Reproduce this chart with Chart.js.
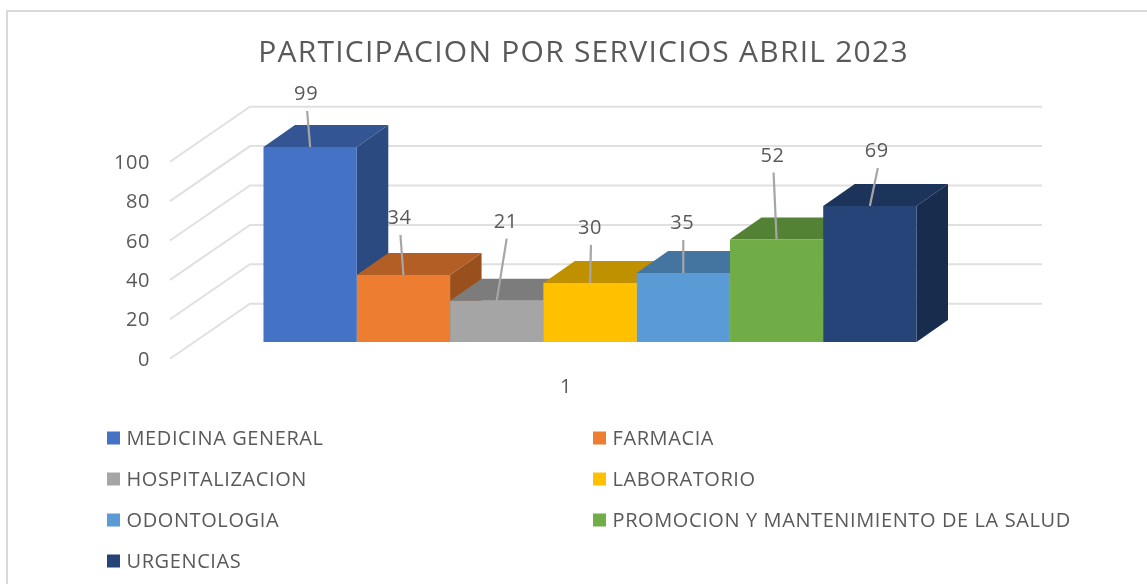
<!DOCTYPE html>
<html>
<head>
<meta charset="utf-8">
<style>
html,body{margin:0;padding:0;background:#fff;overflow:hidden}
#frame{position:absolute;left:6px;top:10px;right:0;bottom:0;border-left:2px solid #d9d9d9;border-top:2px solid #d9d9d9}
canvas{position:absolute;left:0;top:0;display:block}
</style>
<script src="https://cdn.jsdelivr.net/npm/chart.js@4"></script>
</head>
<body>
<div id="frame"></div>
<canvas id="c" width="1147" height="584"></canvas>
<script>
const chartTitle = 'PARTICIPACION POR SERVICIOS ABRIL 2023';
const categories = ['1'];
const seriesNames = ['MEDICINA GENERAL','FARMACIA','HOSPITALIZACION','LABORATORIO','ODONTOLOGIA','PROMOCION Y MANTENIMIENTO DE LA SALUD','URGENCIAS'];
const seriesValues = [99,34,21,30,35,52,69];
const frontColors = ['#4472C4','#ED7D31','#A5A5A5','#FFC000','#5B9BD5','#70AD47','#264478'];
const topColors   = ['#335593','#B25E25','#7C7C7C','#BF9000','#4474A0','#548235','#1C335A'];
const sideColors  = ['#2A4A80','#99501C','#6B6B6B','#A67C00','#3B6589','#48702E','#182C4D'];
const yTicks = {min:0,max:100,step:20};
// where each value label sits relative to the top of its bar
const labelDX = [-4,-4,9,0,-1,-4,7];
const labelDY = [-54,-58,-80,-56,-51,-85,-56];

const FONT = '"Open Sans", sans-serif';
const TEXT = '#595959';
const DEPTH = {x:31.5, y:22};

const scene = {
  id:'scene',
  afterLayout(chart){
    const t = chart.titleBlock, draw = t.draw;
    t.left += 90.5; t.right += 90.5;
    t.draw = function(){
      const ctx = chart.ctx, prev = ctx.letterSpacing;
      ctx.letterSpacing = '1.24px';
      draw.call(t);
      ctx.letterSpacing = prev;
    };
  },
  beforeDraw(chart){ chart.ctx.letterSpacing = '0.6px'; },
  beforeDatasetsDraw(chart){
    const {ctx} = chart, y = chart.scales.y;
    ctx.save();
    // walls
    ctx.strokeStyle = '#e0e0e0'; ctx.lineWidth = 2;
    y.ticks.forEach(t=>{
      const p = y.getPixelForValue(t.value);
      ctx.beginPath();
      ctx.moveTo(170,p+16.7); ctx.lineTo(250,p-38.3); ctx.lineTo(1042,p-38.3);
      ctx.stroke();
    });
    const bars = chart.data.datasets.map((d,i)=>chart.getDatasetMeta(i).data[0]);
    // value labels sit behind the bars
    ctx.fillStyle = TEXT; ctx.font = '20px '+FONT;
    ctx.textAlign='center'; ctx.textBaseline='middle';
    bars.forEach((b,i)=>ctx.fillText(String(seriesValues[i]), b.x+labelDX[i], b.y+labelDY[i]+1.5));
    // depth faces, left to right
    bars.forEach((b,i)=>{
      const l=b.x-b.width/2, r=b.x+b.width/2, tp=b.y, bt=b.base;
      ctx.fillStyle = sideColors[i];
      ctx.beginPath();
      ctx.moveTo(r,tp); ctx.lineTo(r+DEPTH.x,tp-DEPTH.y); ctx.lineTo(r+DEPTH.x,bt-DEPTH.y); ctx.lineTo(r,bt);
      ctx.closePath(); ctx.fill();
      ctx.fillStyle = topColors[i];
      ctx.beginPath();
      ctx.moveTo(l,tp); ctx.lineTo(l+DEPTH.x,tp-DEPTH.y); ctx.lineTo(r+DEPTH.x,tp-DEPTH.y); ctx.lineTo(r,tp);
      ctx.closePath(); ctx.fill();
    });
    ctx.restore();
  },
  afterDatasetsDraw(chart){
    const {ctx} = chart;
    ctx.save();
    // leader lines
    ctx.strokeStyle='#a6a6a6'; ctx.lineWidth=2.2;
    chart.data.datasets.forEach((d,i)=>{
      const b = chart.getDatasetMeta(i).data[0];
      ctx.beginPath();
      ctx.moveTo(b.x+labelDX[i]+1, b.y+labelDY[i]+18);
      ctx.lineTo(b.x, b.y);
      ctx.stroke();
    });
    // legend, two columns
    const cols=[107,593], rows=[438,479,520,561];
    ctx.font='20px '+FONT; ctx.textAlign='left'; ctx.textBaseline='middle';
    chart.data.datasets.forEach((d,i)=>{
      const x=cols[i%2], y=rows[Math.floor(i/2)];
      ctx.fillStyle=d.backgroundColor; ctx.fillRect(x,y-6.5,13,13);
      ctx.fillStyle=TEXT; ctx.fillText(d.label,x+19.5,y+1);
    });
    ctx.restore();
  }
};

new Chart(document.getElementById('c'),{
  type:'bar',
  data:{
    labels:categories,
    datasets:seriesNames.map((n,i)=>({label:n,data:[seriesValues[i]],backgroundColor:frontColors[i],borderWidth:0}))
  },
  options:{
    responsive:false, animation:false,
    layout:{padding:{left:0,right:161,top:0,bottom:0}},
    categoryPercentage:0.8245, barPercentage:1,
    plugins:{
      legend:{display:false}, tooltip:{enabled:false},
      title:{display:true,text:chartTitle,color:TEXT,font:{family:FONT,size:30,weight:'normal',lineHeight:1.2},padding:{top:35,bottom:74}}
    },
    scales:{
      x:{
        grid:{display:false,drawTicks:false},border:{display:false},
        ticks:{color:TEXT,font:{family:FONT,size:20},padding:33,labelOffset:-24,maxRotation:0},
        afterFit(s){s.height=242;}
      },
      y:{
        min:yTicks.min,max:yTicks.max,
        grid:{display:false,drawTicks:false},border:{display:false},
        ticks:{stepSize:yTicks.step,color:TEXT,font:{family:FONT,size:20},padding:44,labelOffset:18},
        afterFit(s){s.width=194;}
      }
    }
  },
  plugins:[scene]
});
</script>
</body>
</html>
